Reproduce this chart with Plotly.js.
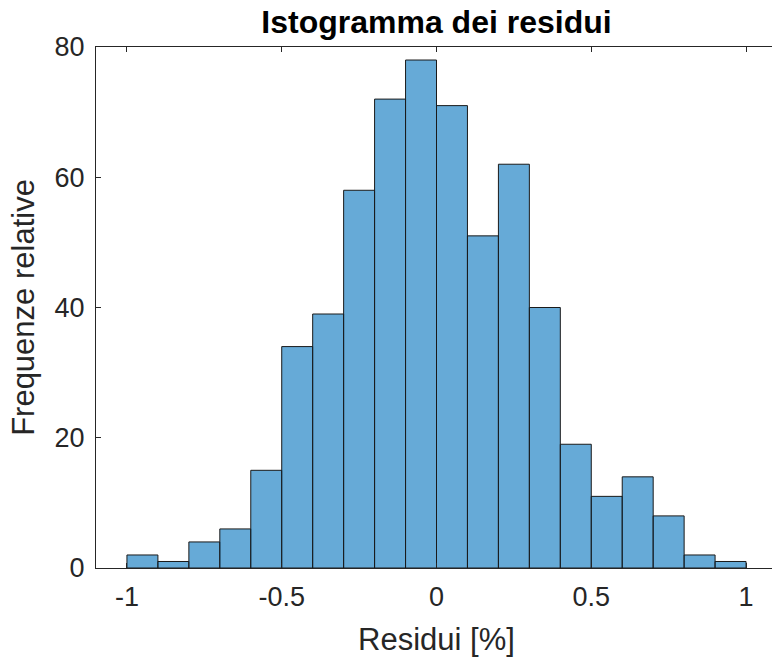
<!DOCTYPE html>
<html>
<head>
<meta charset="utf-8">
<script src="https://cdn.plot.ly/plotly-3.0.1.min.js"></script>
<style>html,body{margin:0;padding:0;overflow:hidden;background:#fff;width:772px;height:658px}</style>
</head>
<body>
<div id="chart"></div>
<script>
// Bin left edges (width 0.1) and counts
const binStarts = [-1.0,-0.9,-0.8,-0.7,-0.6,-0.5,-0.4,-0.3,-0.2,-0.1,0.0,0.1,0.2,0.3,0.4,0.5,0.6,0.7,0.8,0.9];
const counts    = [2,1,4,6,15,34,39,58,72,78,71,51,62,40,19,11,14,8,2,1];
const binWidth = 0.1;
const xTicks = [-1,-0.5,0,0.5,1];
const xTickText = ['-1','-0.5','0','0.5','1'];
const yTicks = [0,20,40,60,80];

const centers = binStarts.map(s => s + binWidth/2);
const fontFam = 'Liberation Sans, Arial, Helvetica, sans-serif';
const axCol = '#262626';

const trace = {
  type: 'bar',
  x: centers,
  y: counts,
  width: binWidth,
  marker: {color: 'rgba(0,114,189,0.6)', line: {color: '#1a1a1a', width: 1}},
  hoverinfo: 'x+y'
};

const layout = {
  width: 778, height: 658,
  margin: {l: 95.5, r: 1, t: 46.7, b: 89.7, pad: 0},
  paper_bgcolor: '#fff', plot_bgcolor: '#fff',
  showlegend: false,
  bargap: 0,
  title: {text: '<b>Istogramma dei residui</b>', font: {family: fontFam, size: 32, color: '#000'},
          x: 0.5, xref: 'paper', y: 1, yref: 'paper', yanchor: 'bottom', pad: {b: 14}},
  xaxis: {
    range: [-1.1, 1.1], tickvals: xTicks, ticktext: xTickText,
    ticks: 'inside', ticklen: 5, tickcolor: axCol, tickwidth: 1,
    showline: true, linecolor: axCol, linewidth: 1, mirror: 'ticks',
    showgrid: false, zeroline: false, ticklabelstandoff: 5,
    tickfont: {family: fontFam, size: 27, color: axCol},
    title: {text: 'Residui [%]', font: {family: fontFam, size: 31, color: axCol}, standoff: 16},
    automargin: false
  },
  yaxis: {
    range: [0, 80], tickvals: yTicks,
    ticks: 'inside', ticklen: 5, tickcolor: axCol, tickwidth: 1,
    showline: true, linecolor: axCol, linewidth: 1, mirror: 'ticks',
    showgrid: false, zeroline: false, ticklabelstandoff: 5,
    tickfont: {family: fontFam, size: 27, color: axCol},
    title: {text: 'Frequenze relative', font: {family: fontFam, size: 31, color: axCol}, standoff: 10},
    automargin: false
  }
};

Plotly.newPlot('chart', [trace], layout, {displayModeBar: false, staticPlot: true});
</script>
</body>
</html>
